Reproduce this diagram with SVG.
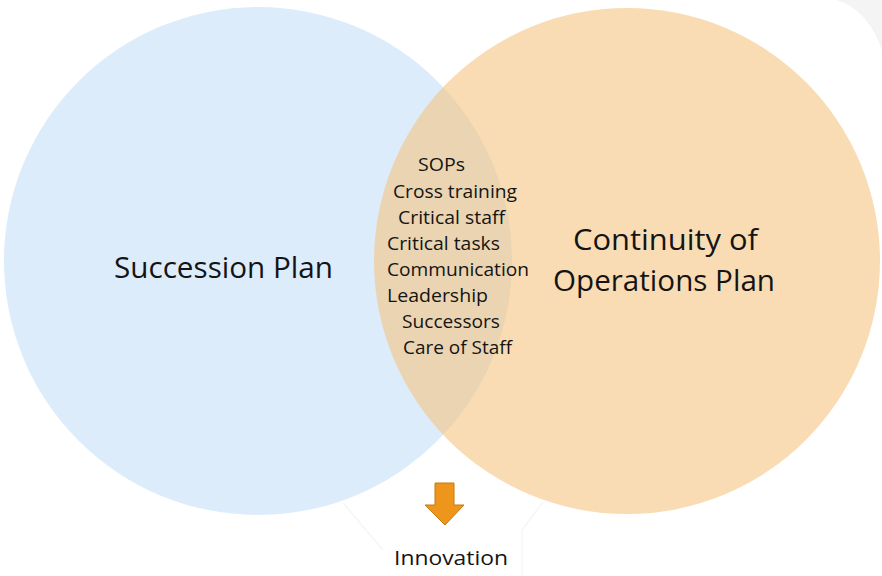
<svg xmlns="http://www.w3.org/2000/svg" width="882" height="576" viewBox="0 0 882 576">
  <style>
    .lbl { font-family: "Open Sans", "Noto Sans", "Liberation Sans", sans-serif; fill: #141414; }
    .big { font-size: 29px; }
    .item { font-size: 18px; }
    .small { font-size: 20px; }
  </style>
  <rect width="882" height="576" fill="#ffffff"/>
  <!-- faint background frame -->
  <g id="backdrop" fill="none" stroke="#f6f6f6" stroke-width="1.5">
    <path d="M837,0 Q868,10 882,50 L882,0 Z" fill="#f4f4f4" stroke="none"/>
    <path d="M343,503 L383,550"/>
    <path d="M543,502 L522,530 L522,576"/>
  </g>
  <g id="succession">
    <circle cx="258" cy="261" r="254" fill="#ddecfb"/>
  </g>
  <g id="continuity">
    <circle cx="627" cy="261" r="253" fill="#f5c580" fill-opacity="0.6"/>
  </g>
  <g id="labels" class="lbl">
    <text class="big" x="114" y="278" textLength="219" lengthAdjust="spacingAndGlyphs">Succession Plan</text>
    <text class="big" x="573" y="250" textLength="185" lengthAdjust="spacingAndGlyphs">Continuity of</text>
    <text class="big" x="553" y="291" textLength="222" lengthAdjust="spacingAndGlyphs">Operations Plan</text>
  </g>
  <g id="shared" class="lbl item">
    <text x="418" y="171" textLength="47" lengthAdjust="spacingAndGlyphs">SOPs</text>
    <text x="393" y="198" textLength="124" lengthAdjust="spacingAndGlyphs">Cross training</text>
    <text x="398" y="224" textLength="107" lengthAdjust="spacingAndGlyphs">Critical staff</text>
    <text x="387" y="250" textLength="113" lengthAdjust="spacingAndGlyphs">Critical tasks</text>
    <text x="387" y="276" textLength="142" lengthAdjust="spacingAndGlyphs">Communication</text>
    <text x="387" y="302" textLength="101" lengthAdjust="spacingAndGlyphs">Leadership</text>
    <text x="402" y="328" textLength="98" lengthAdjust="spacingAndGlyphs">Successors</text>
    <text x="403" y="354" textLength="109" lengthAdjust="spacingAndGlyphs">Care of Staff</text>
  </g>
  <g id="connectors">
    <path d="M435,483 H454 V505 H464 L445,525 L425,505 H435 Z" fill="#ee961c" stroke="#c9780e" stroke-width="1"/>
  </g>
  <g id="innovation" class="lbl">
    <text class="small" x="394" y="565" textLength="114" lengthAdjust="spacingAndGlyphs">Innovation</text>
  </g>
</svg>
